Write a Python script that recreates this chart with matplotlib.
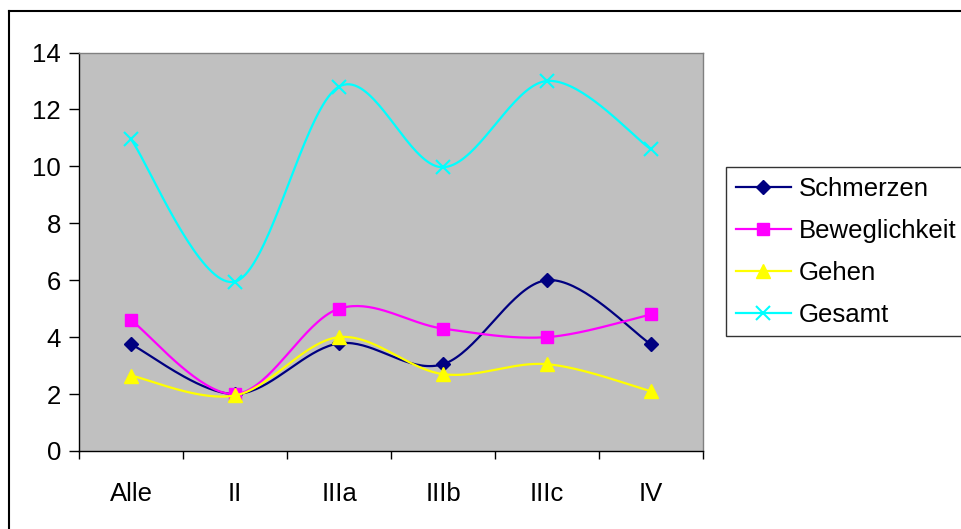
import numpy as np
import matplotlib
matplotlib.use("Agg")
import matplotlib.pyplot as plt
from matplotlib.lines import Line2D

plt.rcParams['font.family'] = ['Liberation Sans', 'DejaVu Sans']

categories = ["Alle", "II", "IIIa", "IIIb", "IIIc", "IV"]
schmerzen = [3.75, 2.0, 3.78, 3.05, 6.0, 3.75]
beweglichkeit = [4.6, 2.0, 5.0, 4.3, 4.0, 4.8]
gehen = [2.65, 1.95, 4.0, 2.7, 3.05, 2.1]
gesamt = [10.95, 5.95, 12.8, 9.97, 13.0, 10.6]

series = [
    ("Schmerzen", schmerzen, "#000080", "D", 7.5),
    ("Beweglichkeit", beweglichkeit, "#FF00FF", "s", 8.5),
    ("Gehen", gehen, "#FFFF00", "^", 10),
    ("Gesamt", gesamt, "#00FFFF", "x", 10),
]


def smooth(xs, ys, n=40):
    P = np.column_stack([xs, ys]).astype(float)
    Pe = np.vstack([P[0], P, P[-1]])
    out = []
    t = np.linspace(0, 1, n)[:, None]
    for i in range(len(P) - 1):
        p0 = Pe[i + 1]
        p3 = Pe[i + 2]
        c1 = p0 + (Pe[i + 2] - Pe[i]) / 6.0
        c2 = p3 - (Pe[i + 3] - Pe[i + 1]) / 6.0
        seg = ((1 - t) ** 3) * p0 + 3 * ((1 - t) ** 2) * t * c1 + 3 * (1 - t) * t ** 2 * c2 + t ** 3 * p3
        out.append(seg if i == 0 else seg[1:])
    a = np.vstack(out)
    return a[:, 0], a[:, 1]


W, H = 962, 529
fig = plt.figure(figsize=(W / 100, H / 100), dpi=100)
fig.patch.set_facecolor("white")

ax = fig.add_axes([79 / W, (H - 451) / H, 624 / W, (451 - 52.5) / H])
ax.set_facecolor("#C0C0C0")

x = np.arange(len(categories))
for name, vals, col, mk, ms in series:
    sx, sy = smooth(x, vals)
    ax.plot(sx, sy, color=col, lw=1.6, solid_joinstyle="round")
    if mk == "x":
        ax.plot(x, vals, ls="none", marker=mk, ms=ms, mew=1.5, color=col)
    else:
        ax.plot(x, vals, ls="none", marker=mk, ms=ms, mfc=col, mec=col, color=col)

ax.set_xlim(-0.5, len(categories) - 0.5)
ax.set_ylim(0, 14)
ax.set_yticks(np.arange(0, 15, 2))
ax.set_xticks(x)
ax.set_xticklabels(categories)
ax.set_xticks(np.arange(-0.5, len(categories) + 0.5, 1), minor=True)
ax.tick_params(axis="x", which="major", length=0, pad=22, labelsize=18.5)
ax.tick_params(axis="x", which="minor", length=6, width=1, color="black", direction="out")
ax.tick_params(axis="y", length=7, width=1, color="black", direction="out", pad=6, labelsize=18.5)

for s in ["left", "bottom"]:
    ax.spines[s].set_color("black")
    ax.spines[s].set_linewidth(1)
for s in ["top", "right"]:
    ax.spines[s].set_color("#808080")
    ax.spines[s].set_linewidth(1)

handles = []
for name, vals, col, mk, ms in series:
    if mk == "x":
        h = Line2D([], [], color=col, lw=1.6, marker=mk, ms=ms, mew=1.5)
    else:
        h = Line2D([], [], color=col, lw=1.6, marker=mk, ms=ms, mfc=col, mec=col)
    handles.append(h)

leg = fig.legend(
    handles, [s[0] for s in series], loc="upper left",
    bbox_to_anchor=(726 / W, 1 - 167 / H), borderaxespad=0,
    frameon=True, fancybox=False, fontsize=18.5,
    handlelength=2.15, handletextpad=0.3, labelspacing=0.7, borderpad=0.38)
leg.get_frame().set_edgecolor("black")
leg.get_frame().set_linewidth(1)

# outer chart frame (left and top edges visible)
fig.add_artist(Line2D([8.5 / W, 8.5 / W], [0, 1 - 11 / H], color="black", lw=1.5, transform=fig.transFigure))
fig.add_artist(Line2D([8.5 / W, 1], [1 - 11 / H, 1 - 11 / H], color="black", lw=1.5, transform=fig.transFigure))

fig.savefig("out.png", dpi=100)
